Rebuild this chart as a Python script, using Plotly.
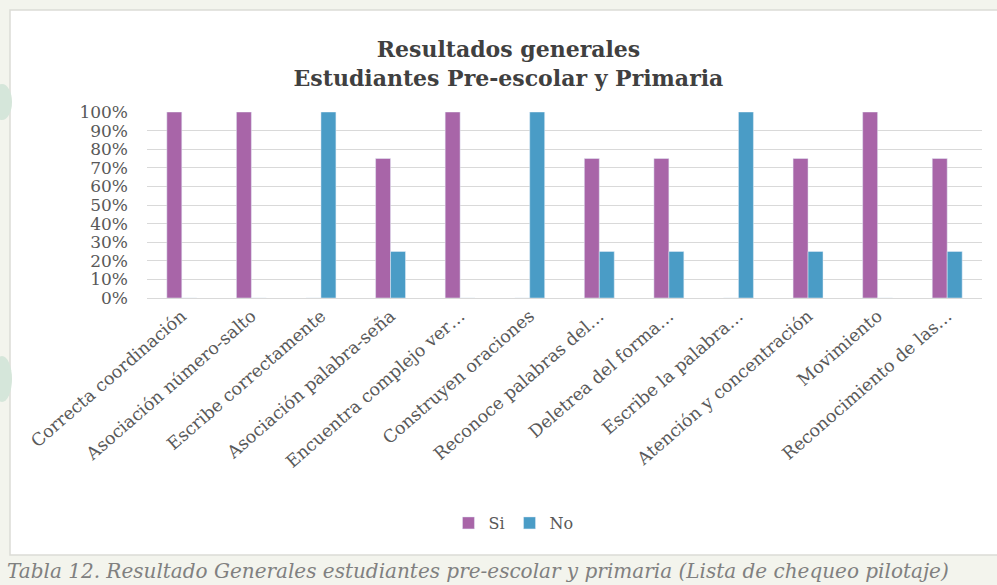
import plotly.graph_objects as go

categories = [
    "Correcta coordinación",
    "Asociación número-salto",
    "Escribe correctamente",
    "Asociación palabra-seña",
    "Encuentra complejo ver…",
    "Construyen oraciones",
    "Reconoce palabras del…",
    "Deletrea del forma…",
    "Escribe la palabra…",
    "Atención y concentración",
    "Movimiento",
    "Reconocimiento de las…",
]
si_values = [1.00, 1.00, 0.00, 0.75, 1.00, 0.00, 0.75, 0.75, 0.00, 0.75, 1.00, 0.75]
no_values = [0.00, 0.00, 1.00, 0.25, 0.00, 1.00, 0.25, 0.25, 1.00, 0.25, 0.00, 0.25]

W, H = 997, 585
L, R, T, B = 147, 15, 112, 287
PW, PH = W - L - R, H - T - B


def px(x):
    return (x - L) / PW


def py(y):
    return (H - B - y) / PH


SERIF = "'DejaVu Serif', 'Liberation Serif', serif"

fig = go.Figure()
fig.add_trace(go.Bar(name="Si", x=categories, y=si_values, marker_color="#a865a8"))
fig.add_trace(go.Bar(name="No", x=categories, y=no_values, marker_color="#4a9cc6"))

shapes = [
    dict(type="rect", xref="paper", yref="paper", x0=px(10), x1=px(1000), y0=py(555), y1=py(10),
         fillcolor="white", line=dict(color="#dcdcd6", width=1.5), layer="below"),
    dict(type="circle", xref="paper", yref="paper", x0=px(-8), x1=px(12), y0=py(120), y1=py(84),
         fillcolor="#d5e6da", line=dict(width=0), layer="below"),
    dict(type="circle", xref="paper", yref="paper", x0=px(-8), x1=px(12), y0=py(402), y1=py(356),
         fillcolor="#d5e6da", line=dict(width=0), layer="below"),
]

fig.update_layout(
    width=W, height=H,
    margin=dict(l=L, r=R, t=T, b=B),
    paper_bgcolor="#f3f4ed",
    plot_bgcolor="white",
    barmode="group",
    bargap=0.57,
    bargroupgap=0.0,
    shapes=shapes,
    font=dict(family=SERIF, color="#595959"),
    title=dict(
        text="<b>Resultados generales<br>Estudiantes Pre-escolar y Primaria</b>",
        x=0.51, xref="container", xanchor="center",
        y=1 - 57 / H, yref="container", yanchor="middle",
        font=dict(family=SERIF, size=22, color="#404040"),
    ),
    legend=dict(
        orientation="h", x=0.515, xref="container", xanchor="center",
        y=1 - 523 / H, yref="container", yanchor="middle",
        font=dict(family=SERIF, size=16, color="#595959"),
        bgcolor="rgba(0,0,0,0)", itemwidth=30,
    ),
    xaxis=dict(
        tickangle=-41, tickfont=dict(family=SERIF, size=17.5, color="#595959"),
        showline=True, linecolor="#d9d9d9", linewidth=1, showgrid=False,
        ticks="",
    ),
    yaxis=dict(
        range=[0, 1.0], dtick=0.1, tickformat=".0%",
        tickfont=dict(family=SERIF, size=17, color="#595959"),
        showgrid=True, gridcolor="#d9d9d9", gridwidth=1,
        zeroline=False, ticklabelstandoff=18,
    ),
    annotations=[
        dict(
            text="<i>Tabla 12. Resultado Generales estudiantes pre-escolar y primaria (Lista de chequeo pilotaje)</i>",
            xref="paper", yref="paper", x=px(5), y=py(571), xanchor="left", yanchor="middle",
            showarrow=False, font=dict(family=SERIF, size=20, color="#808080"),
        )
    ],
)

fig.write_html("out.html", config={"displayModeBar": False},
               post_script="document.body.style.margin='0';")
